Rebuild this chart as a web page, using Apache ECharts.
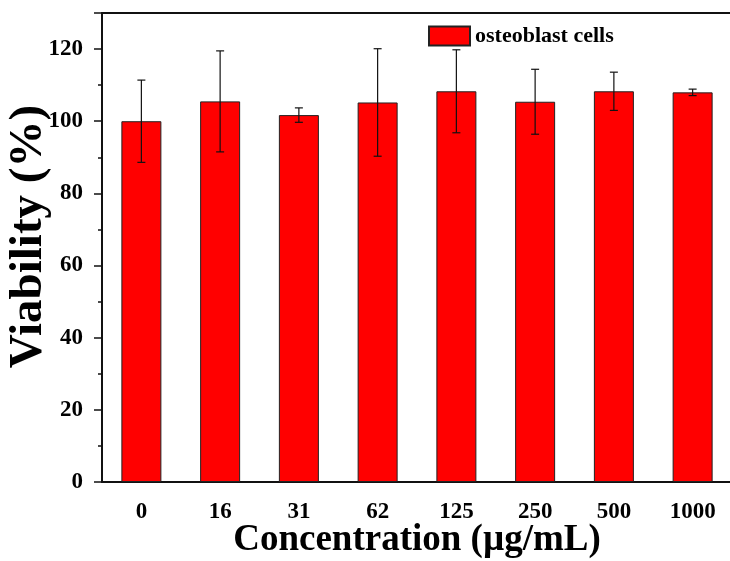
<!DOCTYPE html>
<html>
<head>
<meta charset="utf-8">
<script src="https://cdn.jsdelivr.net/npm/echarts@6/dist/echarts.min.js"></script>
<style>
  html, body { margin: 0; padding: 0; background: #fff; }
  #main { width: 730px; height: 561px; }
</style>
</head>
<body>
<div id="main"></div>
<script>
// concentrations (µg/mL)
var categories = ['0', '16', '31', '62', '125', '250', '500', '1000'];
// mean viability (%)
var viability = [100.0, 105.5, 101.7, 105.2, 108.3, 105.4, 108.3, 108.0];
// standard deviation (%)
var errors = [11.4, 14.0, 2.0, 14.9, 11.5, 9.0, 5.3, 0.9];
var yTicks = [0, 20, 40, 60, 80, 100, 120];

var fontFam = '"Liberation Serif", "DejaVu Serif", serif';
var chart = echarts.init(document.getElementById('main'));

var errData = [];
for (var i = 0; i < categories.length; i++) {
    errData.push([i, viability[i] - errors[i], viability[i] + errors[i]]);
}

function renderError(params, api) {
    var x = api.value(0);
    var lo = api.coord([x, api.value(1)]);
    var hi = api.coord([x, api.value(2)]);
    var cap = 4;
    var st = { stroke: '#111', lineWidth: 1.2 };
    return {
        type: 'group',
        children: [
            { type: 'line', shape: { x1: hi[0], y1: hi[1], x2: lo[0], y2: lo[1] }, style: st },
            { type: 'line', shape: { x1: hi[0] - cap, y1: hi[1], x2: hi[0] + cap, y2: hi[1] }, style: st },
            { type: 'line', shape: { x1: lo[0] - cap, y1: lo[1], x2: lo[0] + cap, y2: lo[1] }, style: st }
        ]
    };
}

var option = {
    backgroundColor: '#fff',
    animation: false,
    grid: {
        left: 102, right: -2, top: 13, bottom: 79,
        outerBoundsMode: 'none',
        containLabel: false
    },
    legend: {
        left: 423, top: 20,
        itemWidth: 41, itemHeight: 19, itemGap: 6,
        data: [{ name: 'osteoblast cells', icon: 'rect' }],
        textStyle: { fontFamily: fontFam, fontWeight: 'bold', fontSize: 22, color: '#000' }
    },
    xAxis: [
        {
            type: 'category',
            data: categories,
            axisLine: { lineStyle: { color: '#111', width: 2 } },
            axisTick: { alignWithLabel: true, length: 5, lineStyle: { color: '#111', width: 1.5 } },
            axisLabel: { margin: 19, fontFamily: fontFam, fontWeight: 'bold', fontSize: 23, color: '#000' },
            name: 'Concentration (\u00b5g/mL)',
            nameLocation: 'middle',
            nameGap: 40,
            nameMoveOverlap: false,
            nameTextStyle: { fontFamily: fontFam, fontWeight: 'bold', fontSize: 37, color: '#000' }
        },
        {
            type: 'category',
            data: categories,
            position: 'top',
            axisLine: { lineStyle: { color: '#111', width: 2 } },
            axisTick: { show: false },
            axisLabel: { show: false }
        }
    ],
    yAxis: {
        type: 'value',
        min: 0, max: 130, interval: 20,
        axisLine: { show: true, lineStyle: { color: '#111', width: 2 } },
        axisTick: { show: true, length: 8, lineStyle: { color: '#111', width: 1.5 } },
        minorTick: { show: true, splitNumber: 2, length: 4, lineStyle: { color: '#111', width: 1.5 } },
        splitLine: { show: false },
        axisLabel: {
            margin: 19, fontFamily: fontFam, fontWeight: 'bold', fontSize: 23, color: '#000',
            formatter: function (v) { return yTicks.indexOf(v) >= 0 ? String(v) : ''; }
        },
        name: 'Viability (%)',
        nameLocation: 'middle',
        nameGap: 50,
        nameMoveOverlap: false,
        nameTextStyle: { fontFamily: fontFam, fontWeight: 'bold', fontSize: 47, color: '#000', padding: [0, 0, 0, 22] }
    },
    series: [
        {
            name: 'osteoblast cells',
            type: 'bar',
            data: viability,
            barWidth: 40,
            itemStyle: { color: '#ff0000', borderColor: '#222', borderWidth: 1 }
        },
        {
            type: 'custom',
            data: errData,
            renderItem: renderError,
            encode: { x: 0, y: [1, 2] },
            z: 10
        }
    ]
};
chart.setOption(option);
</script>
</body>
</html>
